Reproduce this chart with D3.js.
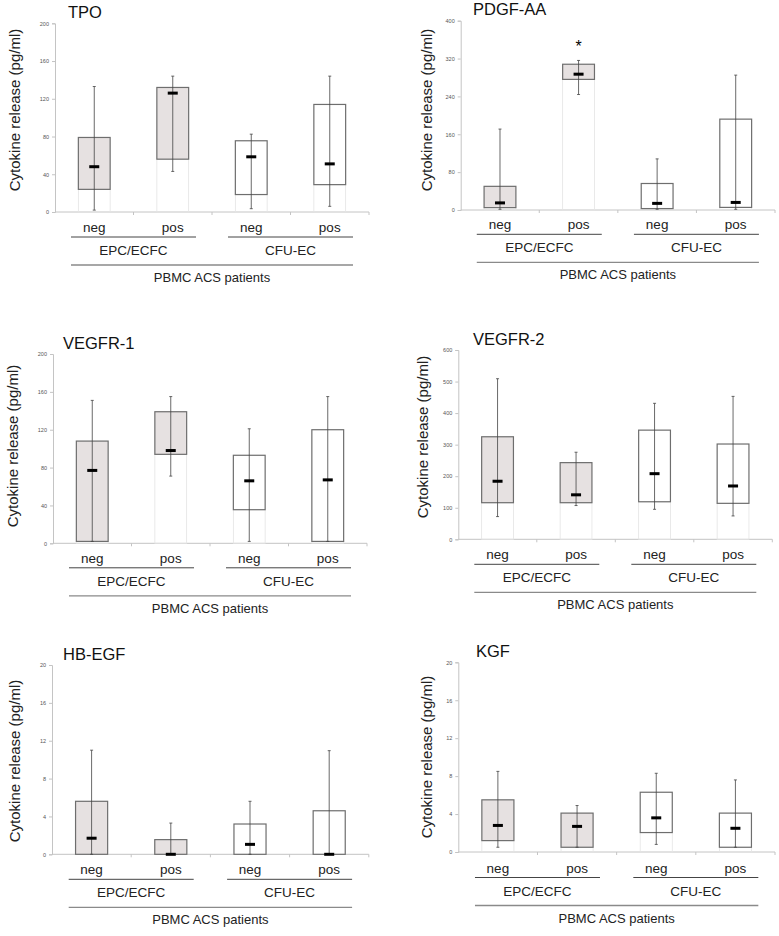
<!DOCTYPE html>
<html>
<head>
<meta charset="utf-8">
<script src="https://cdn.jsdelivr.net/npm/d3@7"></script>
<style>
  body { margin: 0; background: #fff; }
  svg { display: block; font-family: 'Liberation Sans', Arial, sans-serif; }
</style>
</head>
<body>
<div id="chart"></div>
<script>
// values per category: [whisker low, box low, median, box high, whisker high]
const categories = ['neg', 'pos', 'neg', 'pos']
const groups = ['EPC/ECFC', 'CFU-EC']
const titles = ['TPO', 'PDGF-AA', 'VEGFR-1', 'VEGFR-2', 'HB-EGF', 'KGF']
const yMaxes = [200, 400, 200, 600, 20, 20]
const yTicks = [
    [0, 40, 80, 120, 160, 200],
    [0, 80, 160, 240, 320, 400],
    [0, 40, 80, 120, 160, 200],
    [0, 100, 200, 300, 400, 500, 600],
    [0, 4, 8, 12, 16, 20],
    [0, 4, 8, 12, 16, 20]
]
const tpoValues = [[2, 24, 48, 79, 133], [43, 56, 126, 132, 144], [3.5, 18.5, 58.5, 75.5, 82.5], [6, 29, 51, 114, 144]]
const pdgfValues = [[1.5, 5, 15, 50, 171], [244, 276, 287, 308, 316], [1.5, 3, 14, 56, 108], [1.5, 5.5, 16, 192, 285]]
const vegfr1Values = [[2, 2, 77, 108, 151], [71, 94, 98, 139, 155], [2, 35.5, 66, 93, 121], [2, 2, 67, 120, 155]]
const vegfr2Values = [[72, 116, 184, 325, 509], [107, 116, 141, 243, 276], [95, 119, 208, 346, 431], [74, 114, 169, 302, 453]]
const hbegfValues = [[0, 0, 1.7, 5.6, 11], [0, 0, 0, 1.55, 3.3], [0, 0, 1.05, 3.2, 5.6], [0, 0, 0, 4.6, 10.95]]
const kgfValues = [[0.5, 1.2, 2.8, 5.5, 8.5], [0.5, 0.5, 2.7, 4.1, 4.9], [0.8, 2.05, 3.6, 6.3, 8.3], [0.5, 0.5, 2.5, 4.1, 7.6]]
const stars = [null, 1, null, null, null, null]
const footLabel = 'PBMC ACS patients'
const yLabel = 'Cytokine release (pg/ml)'

const allValues = [tpoValues, pdgfValues, vegfr1Values, vegfr2Values, hbegfValues, kgfValues]

// page layout of each panel
const layout = [
    { x0: 55, x1: 369, top: 23.3, bottom: 212, titleX: 68, labelX: 14, labelY: 110, under: 15 },
    { x0: 460.7, x1: 775, top: 20.7, bottom: 210, titleX: 473, labelX: 426, labelY: 110, under: 14.3 },
    { x0: 53, x1: 367, top: 354, bottom: 543.3, titleX: 63, labelX: 12.5, labelY: 446, under: 14.5 },
    { x0: 458.3, x1: 772.3, top: 350, bottom: 539.3, titleX: 473, labelX: 422, labelY: 437, under: 15 },
    { x0: 52, x1: 368.8, top: 665, bottom: 854.3, titleX: 63, labelX: 14, labelY: 761, under: 15 },
    { x0: 458.3, x1: 775, top: 662.3, bottom: 852, titleX: 476, labelX: 426, labelY: 757, under: 15.5 }
]

let svg = d3.select('#chart')
    .append('svg')
    .attr('width', 779)
    .attr('height', 936)

svg.append('rect').attr('width', 779).attr('height', 936).attr('fill', '#fff')

layout.forEach((p, k) => {
    let data = allValues[k]
    let g = svg.append('g')

    let x = d3.scaleBand()
        .domain(d3.range(categories.length))
        .range([p.x0, p.x1])
        .padding(0)
    let y = d3.scaleLinear()
        .domain([0, yMaxes[k]])
        .range([p.bottom, p.top])

    let boxW = x.bandwidth() * 0.405
    let cx = (i) => x(i) + x.bandwidth() / 2

    // y axis
    let yAxis = g.append('g')
        .attr('transform', `translate(${p.x0},0)`)
        .call(d3.axisLeft(y).tickValues(yTicks[k]).tickSize(3).tickPadding(3))
    yAxis.select('.domain').attr('stroke', '#c4c4c4')
    yAxis.selectAll('.tick line').attr('stroke', '#c4c4c4')
    yAxis.selectAll('.tick text')
        .attr('fill', '#555')
        .style('font-size', '5.5px')
        .style('font-family', "'Liberation Sans', Arial, sans-serif")

    // x baseline with small ticks between categories
    g.append('line')
        .attr('x1', p.x0).attr('x2', p.x1)
        .attr('y1', p.bottom).attr('y2', p.bottom)
        .attr('stroke', '#c4c4c4')
    g.selectAll('.xtick')
        .data(d3.range(1, categories.length + 1))
        .enter().append('line')
        .attr('x1', (d) => p.x0 + d * x.step()).attr('x2', (d) => p.x0 + d * x.step())
        .attr('y1', p.bottom).attr('y2', p.bottom + 3)
        .attr('stroke', '#c4c4c4')

    // faint lower part of stacked bar
    g.selectAll('.under')
        .data(data)
        .enter().append('rect')
        .filter((d) => d[1] > 0)
        .attr('x', (d, i) => cx(i) - boxW / 2)
        .attr('width', boxW)
        .attr('y', (d) => y(d[1]))
        .attr('height', (d) => y(0) - y(d[1]))
        .attr('fill', 'none')
        .attr('stroke', '#e4e4e4')
        .attr('stroke-width', 0.8)

    // boxes
    g.selectAll('.box')
        .data(data)
        .enter().append('rect')
        .attr('x', (d, i) => cx(i) - boxW / 2)
        .attr('width', boxW)
        .attr('y', (d) => y(d[3]))
        .attr('height', (d) => y(d[1]) - y(d[3]))
        .attr('fill', (d, i) => i < 2 ? '#e6e1e1' : '#fff')
        .attr('stroke', '#6e6e6e')
        .attr('stroke-width', 1.2)

    // whiskers
    g.selectAll('.whisker')
        .data(data)
        .enter().append('line')
        .attr('x1', (d, i) => cx(i)).attr('x2', (d, i) => cx(i))
        .attr('y1', (d) => y(d[0])).attr('y2', (d) => y(d[4]))
        .attr('stroke', '#444')
        .attr('stroke-width', 0.8)
    ;[0, 4].forEach((j) => {
        g.selectAll('.cap' + j)
            .data(data)
            .enter().append('line')
            .attr('x1', (d, i) => cx(i) - 1.5).attr('x2', (d, i) => cx(i) + 1.5)
            .attr('y1', (d) => y(d[j])).attr('y2', (d) => y(d[j]))
            .attr('stroke', '#444')
            .attr('stroke-width', 0.8)
    })

    // medians
    g.selectAll('.median')
        .data(data)
        .enter().append('rect')
        .attr('x', (d, i) => cx(i) - 5)
        .attr('width', 10)
        .attr('y', (d) => y(d[2]) - 1.5)
        .attr('height', 3)
        .attr('fill', '#000')

    if (stars[k] != null) {
        g.append('text')
            .attr('x', cx(stars[k]))
            .attr('y', y(353) + 9)
            .attr('text-anchor', 'middle')
            .style('font-size', '16px')
            .text('*')
    }

    // title
    g.append('text')
        .attr('x', p.titleX)
        .attr('y', p.top - 5.5)
        .style('font-size', '16.5px')
        .attr('fill', '#111')
        .text(titles[k])

    // y label
    g.append('text')
        .attr('transform', `translate(${p.labelX},${p.labelY}) rotate(-90)`)
        .attr('text-anchor', 'middle')
        .attr('dominant-baseline', 'central')
        .style('font-size', '15px')
        .attr('fill', '#222')
        .text(yLabel)

    // category labels
    let catY = p.bottom + p.under
    g.selectAll('.cat')
        .data(categories)
        .enter().append('text')
        .attr('x', (d, i) => cx(i))
        .attr('y', catY + 5)
        .attr('text-anchor', 'middle')
        .style('font-size', '13.5px')
        .attr('fill', '#222')
        .text((d) => d)

    groups.forEach((name, gi) => {
        let gc = p.x0 + (gi * 2 + 1) * x.step()
        g.append('line')
            .attr('x1', gc - 62.5).attr('x2', gc + 62.5)
            .attr('y1', catY + 10).attr('y2', catY + 10)
            .attr('stroke', '#444')
            .attr('stroke-width', 1)
        g.append('text')
            .attr('x', gc)
            .attr('y', catY + 28)
            .attr('text-anchor', 'middle')
            .style('font-size', '13.5px')
            .attr('fill', '#222')
            .text(name)
    })

    let c1 = p.x0 + x.step() - 62.5
    let c2 = p.x0 + 3 * x.step() + 62.5
    g.append('line')
        .attr('x1', c1).attr('x2', c2)
        .attr('y1', catY + 38).attr('y2', catY + 38)
        .attr('stroke', '#8a8a8a')
        .attr('stroke-width', 1.3)
    g.append('text')
        .attr('x', (c1 + c2) / 2)
        .attr('y', catY + 55)
        .attr('text-anchor', 'middle')
        .style('font-size', '13px')
        .attr('fill', '#222')
        .text(footLabel)
})
</script>
</body>
</html>
